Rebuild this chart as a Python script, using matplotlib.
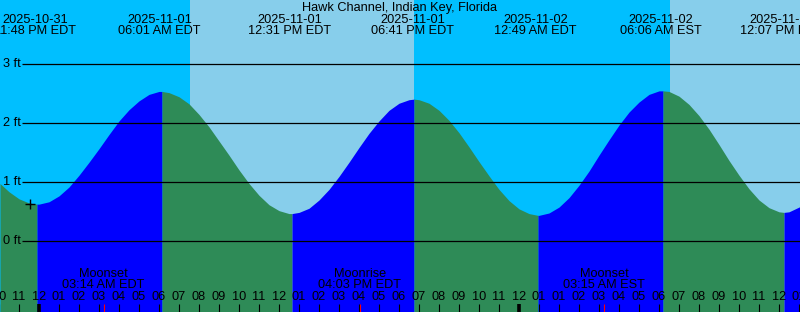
#!/usr/bin/env python3
# -*- coding: utf-8 -*-
"""
Tide graph for Hawk Channel, Indian Key, Florida (XTide style).
"""

import numpy as np
import matplotlib
matplotlib.use('Agg')
import matplotlib.pyplot as plt

###############################################################################
# data, time axis in hours since 2025-11-01 00:00 EDT

title = 'Hawk Channel, Indian Key, Florida'

# tide level (ft), every half hour plus the turning points
tideHours = [-1.95, -1.5, -1, -0.5, -0.1, 0, 0.5, 1, 1.5, 2, 2.5, 3, 3.5, 4, 4.5, 5, 5.5, 6, 6.15,
             6.5, 7, 7.5, 8, 8.5, 9, 9.5, 10, 10.5, 11, 11.5, 12, 12.5, 12.65,
             13, 13.5, 14, 14.5, 15, 15.5, 16, 16.5, 17, 17.5, 18, 18.5, 18.75,
             19, 19.5, 20, 20.5, 21, 21.5, 22, 22.5, 23, 23.5, 24, 24.5, 24.95,
             25, 25.5, 26, 26.5, 27, 27.5, 28, 28.5, 29, 29.5, 30, 30.5, 31, 31.2,
             31.5, 32, 32.5, 33, 33.5, 34, 34.5, 35, 35.5, 36, 36.5, 37, 37.25, 37.5, 38, 38.05]
tideFeet = [0.98, 0.84, 0.72, 0.65, 0.63, 0.63, 0.67, 0.77, 0.92, 1.12, 1.34, 1.57, 1.81, 2.04, 2.23, 2.38, 2.49, 2.54, 2.54,
            2.52, 2.45, 2.33, 2.15, 1.94, 1.70, 1.46, 1.21, 0.98, 0.78, 0.62, 0.52, 0.47, 0.47,
            0.49, 0.56, 0.70, 0.88, 1.10, 1.34, 1.59, 1.83, 2.04, 2.22, 2.34, 2.40, 2.41,
            2.40, 2.34, 2.22, 2.05, 1.84, 1.60, 1.35, 1.11, 0.88, 0.69, 0.55, 0.47, 0.44,
            0.44, 0.48, 0.58, 0.74, 0.95, 1.19, 1.46, 1.72, 1.97, 2.19, 2.36, 2.49, 2.55, 2.55,
            2.54, 2.46, 2.32, 2.13, 1.90, 1.64, 1.37, 1.12, 0.89, 0.70, 0.57, 0.50, 0.49, 0.50, 0.58, 0.59]

# high / low tides
extremeHours = [-0.2, 6.017, 12.517, 18.683, 24.817, 31.1, 37.117]
extremeDates = ['2025-10-31', '2025-11-01', '2025-11-01', '2025-11-01', '2025-11-02', '2025-11-02', '2025-11-02']
extremeTimes = ['11:48 PM EDT', '06:01 AM EDT', '12:31 PM EDT', '06:41 PM EDT', '12:49 AM EDT', '06:06 AM EST', '12:07 PM EST']
turnHours = [-0.1, 6.15, 12.65, 18.75, 24.95, 31.2, 37.25]

# daylight (sunrise, sunset)
dayStart = [7.55, 31.55]
dayEnd = [18.75, 38.05]

# moon events
moonHours = [3.233, 16.05, 28.25]
moonNames = ['Moonset', 'Moonrise', 'Moonset']
moonTimes = ['03:14 AM EDT', '04:03 PM EDT', '03:15 AM EST']

# hour ticks
hourTicks = list(range(-2, 39))
hourLabels = ['10', '11', '12', '01', '02', '03', '04', '05', '06', '07', '08', '09', '10', '11',
              '12', '01', '02', '03', '04', '05', '06', '07', '08', '09', '10', '11',
              '12', '01', '01', '02', '03', '04', '05', '06', '07', '08', '09', '10', '11', '12', '01']
midnightHours = [0, 24]

gridFeet = [0, 1, 2, 3]

# current time mark
nowHour = -0.45
nowFeet = 0.63


def main():

    plt.rcParams['font.family'] = ['Liberation Sans', 'DejaVu Sans']
    fs = 9.2

    fig = plt.figure(figsize=(8, 3.12), dpi=100)
    ax = fig.add_axes([0, 0, 1, 1])
    ax.set_xlim(-1.95, 38.05)
    ax.set_ylim(-1.198, 4.09)
    ax.set_axis_off()

    ### sky: night and day
    ax.axvspan(-1.95, 38.05, color='#00BFFF', lw=0, zorder=0)
    for a, b in zip(dayStart, dayEnd):
        ax.axvspan(a, b, color='#87CEEB', lw=0, zorder=0)

    ### water, blue when rising, green when falling
    h = np.array(tideHours)
    lev = np.array(tideFeet)
    bounds = [h[0]] + turnHours + [h[-1]]
    for a, b in zip(bounds[:-1], bounds[1:]):
        mask = (h >= a) & (h <= b)
        if mask.sum() < 2:
            continue
        seg = lev[mask]
        color = '#0000FF' if seg[-1] > seg[0] else '#2E8B57'
        ax.fill_between(h[mask], seg, -1.3, color=color, lw=0, zorder=1)

    ### grid lines and level labels
    ax.hlines(gridFeet, -0.85, 38.05, color='black', lw=0.9, zorder=2)
    for g in gridFeet:
        ax.text(-1.8, g, '%d ft' % g, fontsize=fs, va='center', ha='left', zorder=3)

    ### current time mark
    ax.plot([nowHour], [nowFeet], marker='+', color='black', markersize=6.5, mew=1, zorder=3)

    ### title and tide labels
    tr = ax.get_xaxis_transform()
    ax.text(18.05, 0.974, title, transform=tr, fontsize=fs, ha='center', va='center', zorder=3)
    for x, d, t in zip(extremeHours, extremeDates, extremeTimes):
        ax.text(x, 0.936, d, transform=tr, fontsize=fs, ha='center', va='center', zorder=3)
        ax.text(x, 0.901, t, transform=tr, fontsize=fs, ha='center', va='center', zorder=3)

    ### hour ticks and labels
    ax.vlines(hourTicks, -1.3, -1.063, color='black', lw=0.8, zorder=3)
    ax.vlines(midnightHours, -1.3, -1.063, color='black', lw=2.6, zorder=3)
    for x, lab in zip(hourTicks, hourLabels):
        ax.text(x, 0.048, lab, transform=tr, fontsize=fs, ha='center', va='center', zorder=3)

    ### moon events
    ax.vlines(moonHours, -1.3, -1.063, color='red', lw=0.8, zorder=4)
    for x, n, t in zip(moonHours, moonNames, moonTimes):
        ax.text(x, 0.123, n, transform=tr, fontsize=fs, ha='center', va='center', zorder=3)
        ax.text(x, 0.085, t, transform=tr, fontsize=fs, ha='center', va='center', zorder=3)

    fig.savefig('out.png', dpi=100)
    plt.close()


if __name__ == '__main__':
    main()
